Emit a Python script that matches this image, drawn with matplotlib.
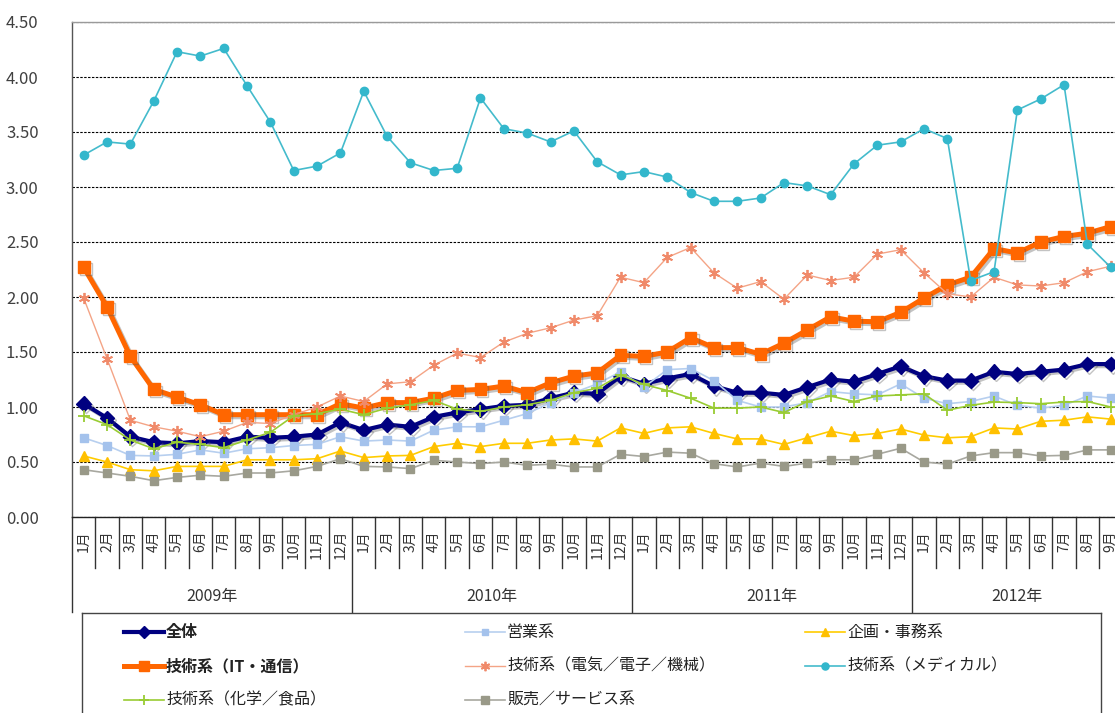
import numpy as np
import matplotlib
matplotlib.use("Agg")
import matplotlib.pyplot as plt
from matplotlib.lines import Line2D
import matplotlib.patheffects as pe

plt.rcParams['font.family'] = ['Noto Sans CJK JP', 'DejaVu Sans']

# ---------------- data ----------------
years = ["2009年", "2010年", "2011年", "2012年"]
months_per_year = [12, 12, 12, 9]
month_labels = [f"{m}月" for n in months_per_year for m in range(1, n + 1)]

series_names = ["全体", "営業系", "企画・事務系", "技術系（IT・通信）",
                "技術系（電気／電子／機械）", "技術系（メディカル）",
                "技術系（化学／食品）", "販売／サービス系"]

zentai = [1.03, 0.90, 0.73, 0.68, 0.67, 0.69, 0.68, 0.73, 0.72, 0.73, 0.75, 0.86,
          0.79, 0.84, 0.82, 0.91, 0.95, 0.98, 1.01, 1.02, 1.08, 1.13, 1.12, 1.28,
          1.21, 1.26, 1.30, 1.19, 1.13, 1.13, 1.11, 1.18, 1.25, 1.23, 1.30, 1.37,
          1.28, 1.24, 1.24, 1.32, 1.30, 1.32, 1.34, 1.39, 1.39]
eigyo = [0.72, 0.65, 0.56, 0.555, 0.57, 0.61, 0.58, 0.62, 0.63, 0.65, 0.66, 0.73,
         0.69, 0.70, 0.69, 0.79, 0.82, 0.82, 0.88, 0.94, 1.04, 1.13, 1.21, 1.32,
         1.18, 1.34, 1.35, 1.24, 1.06, 1.00, 1.00, 1.04, 1.14, 1.12, 1.11, 1.21,
         1.08, 1.03, 1.05, 1.10, 1.015, 0.99, 1.015, 1.10, 1.08]
kikaku = [0.555, 0.50, 0.43, 0.42, 0.46, 0.46, 0.46, 0.52, 0.52, 0.52, 0.53, 0.60,
          0.54, 0.555, 0.56, 0.64, 0.67, 0.64, 0.67, 0.67, 0.70, 0.71, 0.69, 0.81,
          0.76, 0.81, 0.82, 0.76, 0.71, 0.71, 0.66, 0.72, 0.78, 0.74, 0.76, 0.80,
          0.745, 0.72, 0.73, 0.81, 0.80, 0.87, 0.88, 0.91, 0.89]
gijutsu_it = [2.27, 1.91, 1.46, 1.16, 1.09, 1.02, 0.93, 0.93, 0.93, 0.93, 0.93, 1.03,
              0.99, 1.04, 1.04, 1.08, 1.15, 1.16, 1.19, 1.13, 1.22, 1.28, 1.31, 1.47,
              1.46, 1.50, 1.63, 1.54, 1.54, 1.48, 1.58, 1.70, 1.82, 1.78, 1.775, 1.86,
              1.99, 2.11, 2.18, 2.44, 2.40, 2.50, 2.55, 2.58, 2.64]
gijutsu_denki = [1.99, 1.44, 0.88, 0.82, 0.78, 0.73, 0.78, 0.86, 0.85, 0.93, 1.00, 1.10,
                 1.05, 1.21, 1.23, 1.38, 1.49, 1.45, 1.59, 1.67, 1.72, 1.79, 1.83, 2.18,
                 2.13, 2.36, 2.45, 2.22, 2.08, 2.14, 1.98, 2.20, 2.15, 2.18, 2.39, 2.43,
                 2.22, 2.03, 2.00, 2.18, 2.11, 2.10, 2.13, 2.23, 2.28]
gijutsu_medical = [3.29, 3.41, 3.39, 3.78, 4.23, 4.19, 4.26, 3.92, 3.59, 3.15, 3.19, 3.31,
                   3.87, 3.46, 3.22, 3.15, 3.17, 3.81, 3.53, 3.49, 3.41, 3.51, 3.23, 3.11,
                   3.14, 3.09, 2.95, 2.87, 2.87, 2.90, 3.04, 3.01, 2.93, 3.21, 3.38, 3.41,
                   3.53, 3.44, 2.15, 2.23, 3.70, 3.80, 3.93, 2.48, 2.27]
gijutsu_kagaku = [0.92, 0.84, 0.70, 0.62, 0.68, 0.66, 0.63, 0.70, 0.77, 0.92, 0.94, 0.98,
                  0.93, 0.99, 1.02, 1.06, 0.98, 0.96, 1.00, 1.02, 1.06, 1.13, 1.17, 1.29,
                  1.205, 1.15, 1.08, 0.99, 0.99, 1.00, 0.95, 1.05, 1.10, 1.05, 1.10, 1.11,
                  1.12, 0.97, 1.015, 1.045, 1.04, 1.03, 1.045, 1.05, 1.00]
hanbai = [0.43, 0.40, 0.37, 0.33, 0.36, 0.38, 0.37, 0.40, 0.40, 0.42, 0.46, 0.53,
          0.46, 0.455, 0.44, 0.515, 0.50, 0.485, 0.50, 0.47, 0.48, 0.455, 0.455, 0.57,
          0.55, 0.59, 0.58, 0.485, 0.455, 0.49, 0.46, 0.49, 0.52, 0.52, 0.57, 0.625,
          0.50, 0.48, 0.555, 0.585, 0.585, 0.555, 0.56, 0.61, 0.61]

series_values = [zentai, eigyo, kikaku, gijutsu_it, gijutsu_denki,
                 gijutsu_medical, gijutsu_kagaku, hanbai]

# ---------------- styles ----------------
shadow = [pe.SimpleLineShadow(offset=(1.5, -1.5), alpha=0.35, shadow_color='#555555'),
          pe.Normal()]
styles = [
    dict(color='#000080', lw=3.0, marker='D', ms=7.5, mfc='#000080', mec='#000080', pe=shadow),
    dict(color='#B7CFEF', lw=1.2, marker='s', ms=5.5, mfc='#A4C2EC', mec='#A4C2EC', pe=None),
    dict(color='#FFCC00', lw=1.2, marker='^', ms=7, mfc='#FFC000', mec='#FFC000', pe=None),
    dict(color='#FF6600', lw=3.6, marker='s', ms=8.5, mfc='#FF6600', mec='#FF6600', pe=shadow),
    dict(color='#F4A486', lw=1.0, marker=(6, 2, 0), ms=8, mfc='#F08A6A', mec='#F08A6A', pe=None),
    dict(color='#44BBCC', lw=1.2, marker='o', ms=6, mfc='#33B7CC', mec='#33B7CC', pe=None),
    dict(color='#99CC33', lw=1.2, marker='+', ms=8, mfc='#99CC33', mec='#99CC33', pe=None),
    dict(color='#A8A8A0', lw=1.2, marker='s', ms=6, mfc='#999988', mec='#999988', pe=None),
]
bold_names = {"全体", "技術系（IT・通信）"}

W, H = 1115, 713
fig = plt.figure(figsize=(W / 100, H / 100), dpi=100)
fig.patch.set_facecolor('white')

left_px, right_px, top_px, bottom_px = 72, 1122.4, 22, 517
ax = fig.add_axes([left_px / W, 1 - bottom_px / H,
                   (right_px - left_px) / W, (bottom_px - top_px) / H])

x = np.arange(1, len(month_labels) + 1)
for i, (name, vals) in enumerate(zip(series_names, series_values)):
    st = styles[i]
    ln, = ax.plot(x, vals, color=st['color'], lw=st['lw'], marker=st['marker'],
                  ms=st['ms'], mfc=st['mfc'], mec=st['mec'],
                  mew=1.3 if st['marker'] in ('+',) or isinstance(st['marker'], tuple) else 1.0,
                  zorder=3 + i, clip_on=False)
    if st['pe'] is not None:
        ln.set_path_effects(st['pe'])

ax.set_xlim(0.5, len(month_labels) + 0.5)
ax.set_ylim(0, 4.5)
yt = np.arange(0, 4.51, 0.5)
ax.set_yticks(yt)
ax.set_yticklabels([f"{v:.2f}" for v in yt], fontsize=12, color='#404040')
ax.tick_params(axis='y', length=0, pad=24)
ax.set_xticks([])
ax.yaxis.grid(True, linestyle=(0, (2.2, 1.3)), color='black', lw=0.8)
ax.set_axisbelow(True)
ax.spines['top'].set_color('#9a9a9a')
ax.spines['left'].set_color('#555555')
ax.spines['bottom'].set_color('#222222')
ax.spines['right'].set_visible(False)
for s in ('top', 'left', 'bottom'):
    ax.spines[s].set_linewidth(1.0)

# category axis (months + years)
tr = ax.get_xaxis_transform()
ph = bottom_px - top_px
month_tick_len = -51 / ph
year_tick_len = -95 / ph
for xi, lab in zip(x, month_labels):
    ax.text(xi, -13 / ph, lab, rotation=90, ha='center', va='top', fontsize=10,
            color='#333333', transform=tr)
year_bounds = np.concatenate([[0], np.cumsum(months_per_year)]) + 0.5
for b in np.arange(0.5, len(month_labels) + 1, 1.0):
    is_year = np.any(np.isclose(year_bounds[:-1], b))
    ax.add_line(Line2D([b, b], [0, year_tick_len if is_year else month_tick_len],
                       transform=tr, color='#333333', lw=1.0, clip_on=False))
for i, yr in enumerate(years):
    xc = (year_bounds[i] + year_bounds[i + 1]) / 2
    ax.text(xc, -79 / ph, yr, ha='center', va='center', fontsize=11.5,
            color='#333333', transform=tr)

# legend (manual, pixel coordinates)
lax = fig.add_axes([0, 0, 1, 1], zorder=10)
lax.set_xlim(0, W)
lax.set_ylim(H, 0)
lax.axis('off')
box_l, box_r, box_t = 82, 1101, 613
lax.plot([box_l, box_r], [box_t, box_t], color='#444444', lw=1.0)
lax.plot([box_l, box_l], [box_t, H + 5], color='#444444', lw=1.0, clip_on=False)
lax.plot([box_r, box_r], [box_t, H + 5], color='#444444', lw=1.0, clip_on=False)
col_x = [124, 465, 805]
row_y = [632, 666, 700]
for i, name in enumerate(series_names):
    r, c = divmod(i, 3)
    st = styles[i]
    x0 = col_x[c]
    yy = row_y[r]
    ln, = lax.plot([x0, x0 + 40], [yy, yy], color=st['color'], lw=st['lw'])
    mk, = lax.plot([x0 + 20], [yy], linestyle='none', marker=st['marker'],
                   ms=st['ms'] * 0.85, mfc=st['mfc'], mec=st['mec'],
                   mew=1.3 if st['marker'] in ('+',) or isinstance(st['marker'], tuple) else 1.0)
    lax.text(x0 + 42, yy, name, ha='left', va='center', fontsize=11.5,
             color='#222222', fontweight='bold' if name in bold_names else 'normal')

fig.savefig('out.png', dpi=100, facecolor='white')
